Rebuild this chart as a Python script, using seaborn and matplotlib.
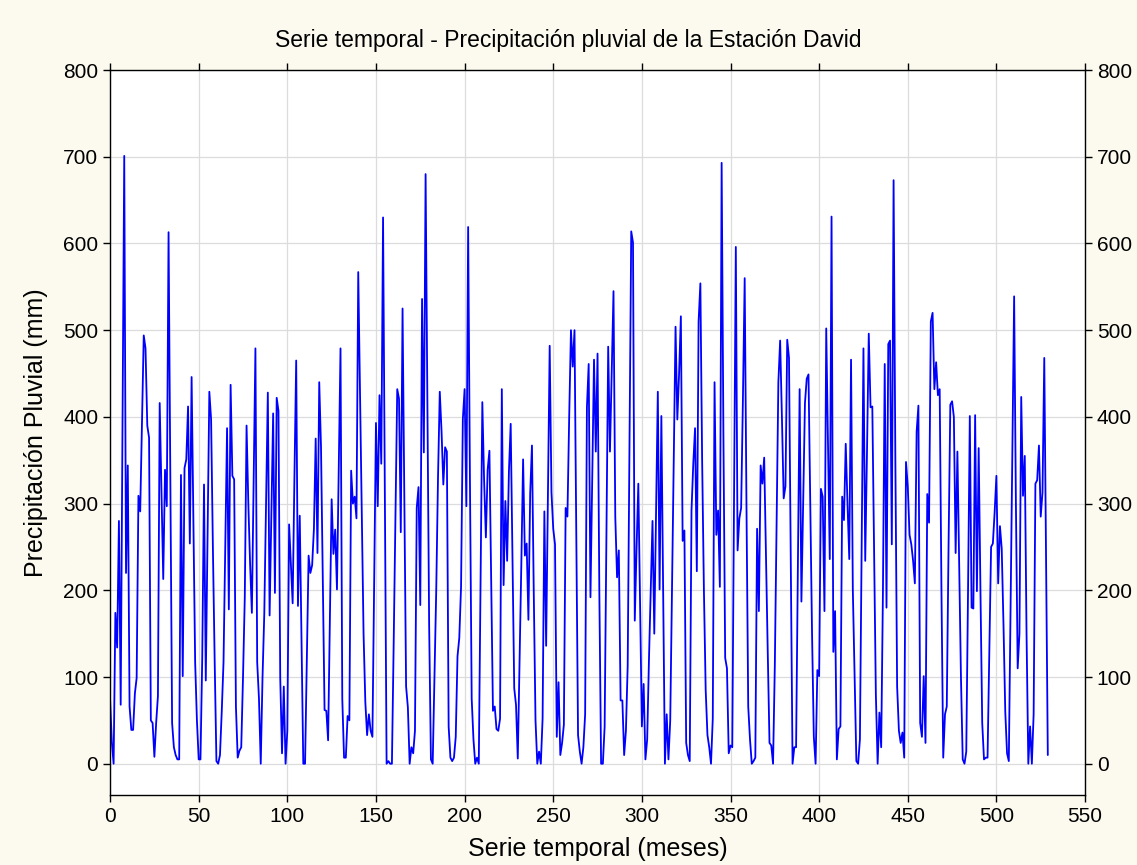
import numpy as np
import pandas as pd
import matplotlib
matplotlib.use("Agg")
import matplotlib.pyplot as plt
import seaborn as sns

# Monthly rainfall (mm), David station, month index 0..529
precip_0_99 = [
    75, 25, 0, 174, 134, 280, 68, 385, 701, 220,
    344, 66, 39, 39, 81, 99, 309, 291, 390, 494,
    479, 390, 376, 50, 47, 8, 47, 78, 416, 315,
    213, 339, 297, 613, 330, 47, 19, 10, 5, 5,
    333, 101, 341, 351, 412, 254, 446, 280, 117, 50,
    5, 5, 122, 322, 96, 260, 429, 397, 250, 120,
    3, 0, 10, 60, 117, 250, 387, 178, 437, 332,
    328, 66, 7, 15, 19, 100, 192, 390, 300, 230,
    174, 330, 479, 117, 75, 0, 99, 173, 300, 428,
    171, 290, 404, 197, 422, 407, 99, 12, 89, 0,
]
precip_100_199 = [
    38, 276, 230, 185, 330, 465, 182, 286, 140, 0,
    0, 120, 240, 220, 229, 271, 375, 243, 440, 365,
    210, 62, 61, 27, 165, 305, 242, 270, 201, 340,
    479, 75, 7, 7, 55, 50, 338, 300, 308, 283,
    567, 430, 290, 150, 71, 33, 57, 38, 31, 210,
    393, 297, 425, 346, 630, 310, 0, 3, 0, 0,
    140, 290, 432, 421, 267, 525, 300, 89, 65, 0,
    19, 12, 38, 295, 319, 183, 536, 359, 680, 420,
    160, 5, 0, 99, 200, 330, 429, 383, 322, 365,
    360, 43, 7, 3, 7, 31, 124, 145, 204, 397,
]
precip_200_299 = [
    432, 297, 619, 330, 75, 28, 0, 7, 0, 210,
    417, 327, 261, 339, 361, 210, 61, 66, 40, 38,
    52, 432, 206, 303, 234, 337, 392, 240, 87, 68,
    6, 117, 230, 351, 240, 254, 166, 312, 367, 200,
    50, 0, 14, 0, 52, 291, 136, 310, 482, 313,
    271, 253, 31, 94, 10, 24, 45, 295, 285, 400,
    500, 458, 500, 270, 33, 14, 0, 19, 57, 411,
    461, 192, 330, 466, 360, 473, 200, 0, 0, 43,
    260, 481, 360, 450, 545, 285, 215, 246, 73, 73,
    10, 38, 113, 360, 614, 601, 165, 248, 323, 180,
]
precip_300_399 = [
    43, 92, 5, 28, 120, 200, 280, 150, 290, 429,
    201, 401, 200, 0, 57, 5, 50, 200, 350, 504,
    397, 450, 516, 257, 269, 24, 10, 3, 292, 346,
    387, 222, 510, 554, 350, 200, 85, 33, 19, 0,
    52, 440, 264, 292, 204, 693, 380, 122, 110, 12,
    21, 19, 300, 596, 246, 283, 295, 420, 560, 300,
    66, 28, 0, 3, 7, 271, 176, 344, 323, 353,
    240, 130, 24, 21, 0, 113, 280, 440, 488, 400,
    306, 320, 489, 468, 230, 0, 19, 19, 220, 432,
    187, 300, 416, 444, 449, 300, 150, 31, 0, 108,
]
precip_400_529 = [
    101, 317, 308, 176, 502, 370, 236, 631, 129, 176,
    5, 40, 43, 308, 281, 369, 300, 236, 466, 201,
    100, 3, 0, 28, 250, 479, 234, 360, 496, 411,
    412, 250, 80, 0, 59, 19, 200, 461, 180, 484,
    488, 253, 673, 350, 89, 38, 24, 36, 7, 348,
    320, 264, 253, 234, 208, 383, 413, 47, 31, 101,
    24, 311, 278, 510, 520, 432, 463, 425, 432, 200,
    7, 57, 66, 250, 414, 418, 400, 243, 360, 230,
    100, 5, 0, 14, 200, 401, 180, 179, 402, 199,
    364, 200, 47, 5, 7, 7, 130, 250, 254, 290,
    332, 208, 274, 248, 160, 60, 12, 3, 180, 360,
    539, 300, 110, 150, 423, 309, 355, 150, 0, 43,
    0, 57, 323, 327, 367, 285, 313, 468, 240, 10,
]

precip = precip_0_99 + precip_100_199 + precip_200_299 + precip_300_399 + precip_400_529
months = list(range(len(precip)))

x_ticks = list(range(0, 551, 50))
y_ticks = list(range(0, 801, 100))

title = "Serie temporal - Precipitación pluvial de la Estación David"
x_label = "Serie temporal (meses)"
y_label = "Precipitación Pluvial (mm)"

df = pd.DataFrame({"mes": months, "precipitacion": precip})

sns.set_style("ticks")
plt.rcParams["font.family"] = ["Liberation Sans", "DejaVu Sans"]
plt.rcParams["text.color"] = "black"
plt.rcParams["axes.labelcolor"] = "black"
plt.rcParams["xtick.color"] = "black"
plt.rcParams["ytick.color"] = "black"

fig = plt.figure(figsize=(11.37, 8.65), dpi=100, facecolor="#FCFAEF")
ax = fig.add_axes([0.0968, 0.081, 0.8575, 0.838])
ax.set_facecolor("white")

sns.lineplot(data=df, x="mes", y="precipitacion", color="#0000FF",
             linewidth=1.3, ax=ax)

ax.set_xlim(0, 550)
ax.set_ylim(-36, 800)
ax.set_xticks(x_ticks)
ax.set_yticks(y_ticks)
ax.grid(True, color="#DCDCDC", linewidth=0.9)
ax.set_axisbelow(True)

for side in ["left", "right", "top", "bottom"]:
    ax.spines[side].set_visible(True)
    ax.spines[side].set_color("black")
    ax.spines[side].set_linewidth(1.0)

ax.tick_params(axis="both", which="major", direction="out", length=5,
               width=1, labelsize=15, color="black", labelcolor="black",
               top=True, right=True, labelright=True)

# title centred on the whole figure
fig.text(0.5, 0.953, title, fontsize=16.5, ha="center", va="center",
         color="black")
ax.set_xlabel(x_label, fontsize=18, labelpad=8, color="black")
ax.set_ylabel(y_label, fontsize=18, labelpad=11, color="black")

fig.savefig("out.png", dpi=100, facecolor=fig.get_facecolor())
